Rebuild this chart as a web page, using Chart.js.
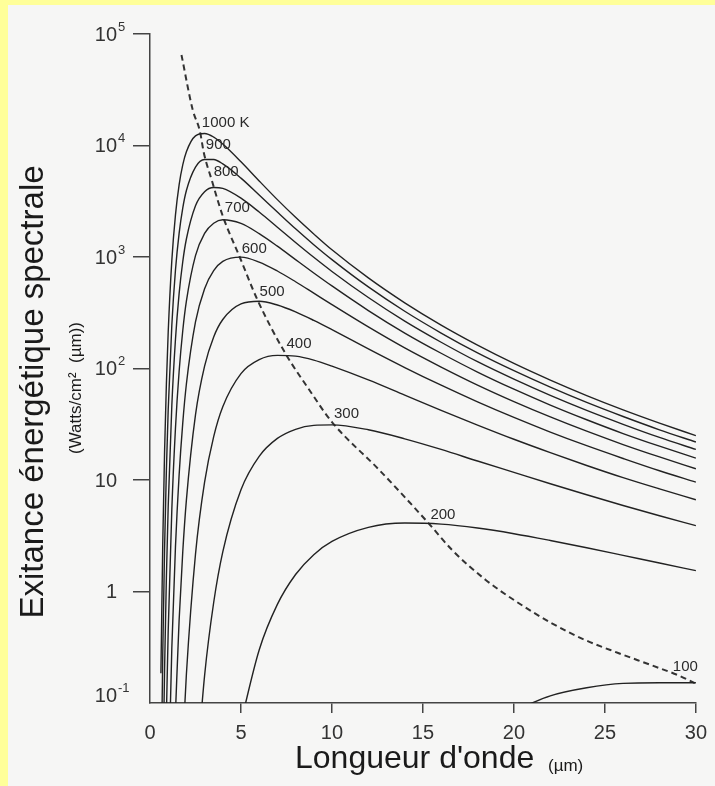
<!DOCTYPE html>
<html>
<head>
<meta charset="utf-8">
<script src="https://cdn.jsdelivr.net/npm/chart.js@4"></script>
<style>
  html, body { margin: 0; padding: 0; overflow: hidden; background: #ffff99; }
  canvas { display: block; }
</style>
</head>
<body>
<canvas id="chart" width="715" height="786"></canvas>
<script>
// wavelength grid (µm) shared by all curves
const wavelengths = [0.6, 0.7, 0.8, 0.9, 1, 1.2, 1.4, 1.6, 1.8, 2, 2.5, 3, 3.5, 4, 5, 6, 7, 8, 9, 10, 12, 14, 16, 18, 20, 22, 24, 26, 28, 30];

// spectral exitance, one array per temperature
const t1000 = [0.185, 2.64, 17.7, 72.2, 211, 933, 2390, 4440, 6690, 8790, 12200, 12800, 11900, 10300, 7140, 4810, 3270, 2270, 1610, 1160, 649, 388, 245, 162, 111, 78.7, 57.2, 42.6, 32.4, 25.0];
const t900 = [0.0129, 0.269, 2.39, 12.2, 42.7, 246, 764, 1630, 2750, 3950, 6410, 7500, 7480, 6840, 5100, 3600, 2530, 1790, 1290, 948, 539, 326, 208, 138, 95.5, 68.0, 49.6, 37.1, 28.2, 21.9];
const t800 = [null, 0.0155, 0.197, 1.33, 5.79, 46.6, 183, 469, 907, 1450, 2880, 3850, 4200, 4120, 3370, 2530, 1850, 1350, 994, 742, 433, 266, 172, 115, 80.2, 57.4, 42.1, 31.6, 24.1, 18.8];
const t700 = [null, null, null, 0.0765, 0.443, 5.48, 29.3, 94.1, 218, 402, 1030, 1630, 2010, 2160, 2000, 1620, 1250, 947, 719, 550, 331, 208, 137, 92.9, 65.2, 47.0, 34.7, 26.1, 20.1, 15.7];
const t600 = [null, null, null, null, 0.0144, 0.315, 2.53, 11.1, 32.4, 72.6, 262, 520, 755, 913, 998, 901, 749, 600, 474, 374, 236, 153, 103, 71.0, 50.5, 36.8, 27.4, 20.8, 16.1, 12.6];
const t500 = [null, null, null, null, null, null, 0.0824, 0.552, 2.26, 6.60, 38.4, 105, 192, 275, 380, 401, 371, 322, 270, 223, 150, 102, 70.8, 50.2, 36.4, 26.9, 20.3, 15.6, 12.1, 9.57];
const t400 = [null, null, null, null, null, null, null, null, 0.0415, 0.181, 2.16, 9.56, 24.5, 45.4, 90.0, 120, 131, 129, 119, 105, 79.0, 57.7, 42.1, 31.1, 23.2, 17.6, 13.5, 10.5, 8.32, 6.65];
const t300 = [null, null, null, null, null, null, null, null, null, null, 0.0179, 0.176, 0.797, 2.27, 8.18, 16.3, 23.6, 28.5, 30.9, 31.2, 28.2, 23.4, 18.8, 14.8, 11.7, 9.25, 7.37, 5.91, 4.78, 3.90];
const t200 = [null, null, null, null, null, null, null, null, null, null, null, null, null, null, 0.0675, 0.299, 0.766, 1.42, 2.14, 2.81, 3.76, 4.11, 4.02, 3.71, 3.30, 2.87, 2.47, 2.11, 1.80, 1.54];
const t100 = [null, null, null, null, null, null, null, null, null, null, null, null, null, null, null, null, null, null, null, null, null, null, null, null, 0.085, 0.116, 0.137, 0.150, 0.152, 0.152];

const curves = [t1000, t900, t800, t700, t600, t500, t400, t300, t200, t100];

// dashed locus of the maxima, with the temperature written next to it
const locusWavelengths = [1.73, 2.35, 2.74, 2.96, 3.39, 4.0, 4.93, 5.91, 7.39, 8.76, 10.0, 12.6, 15.3, 16.6, 18.45, 20.25, 22.06, 23.92, 25.73, 27.53, 29.0, 29.94];
const locusValues = [64900, 20800, 13500, 8570, 4910, 2330, 1000, 411, 141, 64.1, 33.1, 12.3, 4.11, 2.36, 1.27, 0.789, 0.521, 0.367, 0.281, 0.219, 0.178, 0.151];
const locusLabels = ['', '', '1000 K', '900', '800', '700', '600', '500', '400', '', '300', '', '200', '', '', '', '', '', '', '', '100', ''];

const xTicks = [0, 5, 10, 15, 20, 25, 30];
const yTicks = [0.1, 1, 10, 100, 1000, 10000, 100000];
const yTickBase = ['10', '1', '10', '10', '10', '10', '10'];
const yTickExp = ['-1', '', '', '2', '3', '4', '5'];

const FONT = '"Liberation Sans", Arial, sans-serif';
const INK = '#2a2a2a';

const datasets = curves.map(vals => ({
  data: wavelengths.map((w, i) => ({ x: w, y: vals[i] })),
  borderColor: '#222',
  borderWidth: 1.4,
  pointRadius: 0,
  fill: false,
  cubicInterpolationMode: 'monotone'
}));

datasets.push({
  data: locusWavelengths.map((w, i) => ({ x: w, y: locusValues[i] })),
  borderColor: '#333',
  borderWidth: 2,
  borderDash: [6, 4],
  pointRadius: 0,
  fill: false,
  cubicInterpolationMode: 'monotone'
});

// page background, y tick labels with exponents, axis titles, curve labels
const decor = {
  id: 'decor',
  beforeDraw(chart) {
    const c = chart.ctx;
    c.save();
    c.fillStyle = '#ffff99';
    c.fillRect(0, 0, chart.width, chart.height);
    c.fillStyle = '#f6f6f5';
    c.fillRect(8, 5, chart.width - 8, chart.height - 5);
    c.restore();
  },
  afterDraw(chart) {
    const c = chart.ctx;
    const xs = chart.scales.x, ys = chart.scales.y;
    const area = chart.chartArea;
    c.save();

    // y tick labels: "10" right aligned, exponent raised after it
    c.fillStyle = '#333';
    c.textBaseline = 'middle';
    yTicks.forEach((v, i) => {
      const py = Math.min(ys.getPixelForValue(v), area.bottom - 8);
      c.font = '20px ' + FONT;
      c.textAlign = 'right';
      c.fillText(yTickBase[i], 117, py + 1);
      if (yTickExp[i]) {
        c.font = '13px ' + FONT;
        c.textAlign = 'left';
        c.fillText(yTickExp[i], 118, py - 7);
      }
    });

    // temperature labels along the dashed locus
    c.fillStyle = INK;
    c.font = '15px ' + FONT;
    c.textAlign = 'left';
    c.textBaseline = 'alphabetic';
    locusLabels.forEach((t, i) => {
      if (!t) return;
      let px = xs.getPixelForValue(locusWavelengths[i]) + 2;
      const w = c.measureText(t).width;
      if (px + w > area.right + 2) px = area.right + 2 - w;
      c.fillText(t, px, ys.getPixelForValue(locusValues[i]) - 4);
    });

    c.fillStyle = '#1a1a1a';
    c.font = '32px ' + FONT;
    c.fillText("Longueur d'onde", 295, 768);
    c.font = '17px ' + FONT;
    c.fillText('(µm)', 548, 771);

    c.save();
    c.translate(43, 392);
    c.rotate(-Math.PI / 2);
    c.textAlign = 'center';
    c.font = '33px ' + FONT;
    c.fillText('Exitance énergétique spectrale', 0, 0);
    c.restore();

    c.save();
    c.translate(81, 388);
    c.rotate(-Math.PI / 2);
    c.textAlign = 'center';
    c.font = '17px ' + FONT;
    c.fillText('(Watts/cm²  (µm))', 0, 0);
    c.restore();

    c.restore();
  }
};

new Chart(document.getElementById('chart'), {
  type: 'line',
  data: { datasets },
  options: {
    responsive: false,
    animation: false,
    layout: { padding: { top: 34, right: 17, left: 0, bottom: 0 } },
    plugins: { legend: { display: false }, tooltip: { enabled: false } },
    scales: {
      x: {
        type: 'linear',
        min: 0,
        max: 30,
        afterBuildTicks: s => { s.ticks = xTicks.map(v => ({ value: v })); },
        afterFit: s => { s.height = 83; },
        border: { display: true, color: '#444', width: 1.5 },
        grid: {
          drawOnChartArea: false,
          tickLength: 10,
          lineWidth: 1.5,
          color: ctx => (ctx.tick && ctx.tick.value === 0) ? 'rgba(0,0,0,0)' : '#444'
        },
        ticks: { padding: 8, maxRotation: 0, color: '#333', font: { family: FONT, size: 20 } }
      },
      y: {
        type: 'logarithmic',
        min: 0.1,
        max: 100000,
        afterBuildTicks: s => { s.ticks = yTicks.map(v => ({ value: v })); },
        afterFit: s => { s.width = 150; },
        border: { display: true, color: '#444', width: 1.5 },
        grid: {
          drawOnChartArea: false,
          tickLength: 17,
          lineWidth: 1.5,
          color: ctx => (ctx.tick && ctx.tick.value === 0.1) ? 'rgba(0,0,0,0)' : '#444'
        },
        ticks: { display: false, autoSkip: false }
      }
    }
  },
  plugins: [decor]
});
</script>
</body>
</html>
